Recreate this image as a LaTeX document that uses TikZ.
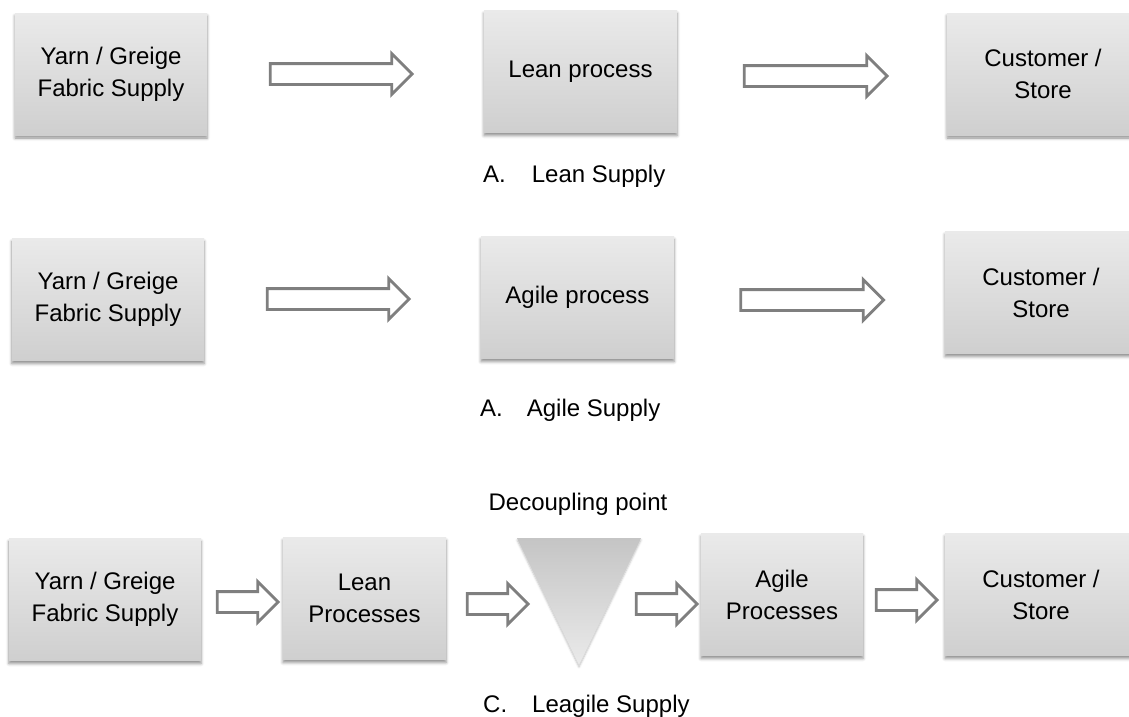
\documentclass[tikz,border=0pt]{standalone}
\usepackage{fontspec}
\setmainfont{Liberation Sans}
\usetikzlibrary{shapes.arrows,shadows.blur}
\definecolor{boxtop}{HTML}{EAEAEA}
\definecolor{boxbot}{HTML}{CFCFCF}
\definecolor{arrowline}{HTML}{7F7F7F}
\tikzset{
  stagebox/.style={rectangle, minimum width=192pt, minimum height=122pt, inner sep=0pt,
    top color=boxtop, bottom color=boxbot, align=center,
    font=\fontsize{24}{32}\selectfont,
    blur shadow={shadow xshift=0pt, shadow yshift=-3pt, shadow blur radius=3pt, shadow opacity=45}},
  flowarrow/.style={single arrow, draw=arrowline, line width=2.8pt, fill=white,
    inner xsep=0pt, inner ysep=9pt, single arrow head extend=10pt,
    single arrow tip angle=90, minimum height=#1},
  flowarrow/.default=142pt,
  caption/.style={font=\fontsize{24}{32}\selectfont, inner sep=0pt}
}
\begin{document}
\begin{tikzpicture}[x=1pt,y=-1pt]
                \useasboundingbox (0,0) rectangle (1129,716);
                % Row A: lean supply
                \node[stagebox] (yarnA) at (111,74) {Yarn / Greige\\Fabric Supply};
                \node[stagebox, minimum width=193pt] (leanA) at (580.5,71.5) {Lean process};
                \node[stagebox] (custA) at (1043,74) {Customer /\\Store};
                \node[flowarrow] (arrA1) at (336,74) {};
                \node[flowarrow=143pt] (arrA2) at (810.5,76) {};
                \node[caption, anchor=base west] (capA) at (483,182) {A.\hspace{26pt}Lean Supply};

                % Row B: agile supply
                \node[stagebox] (yarnB) at (108,299.5) {Yarn / Greige\\Fabric Supply};
                \node[stagebox, minimum width=193pt] (agileB) at (577.5,297.5) {Agile process};
                \node[stagebox] (custB) at (1041,292.5) {Customer /\\Store};
                \node[flowarrow] (arrB1) at (333,299) {};
                \node[flowarrow=143pt] (arrB2) at (807,300) {};
                \node[caption, anchor=base west] (capB) at (480,416) {A.\hspace{24pt}Agile Supply};

                % Row C: leagile supply
                \node[stagebox] (yarnC) at (105,599.5) {Yarn / Greige\\Fabric Supply};
                \node[stagebox, minimum width=163pt] (leanC) at (364.5,598.5) {Lean\\Processes};
                \node[stagebox, minimum width=162pt] (agileC) at (782,594.5) {Agile\\Processes};
                \node[stagebox] (custC) at (1041,594.5) {Customer /\\Store};
                %decoupling point
                \shade[top color=boxbot!95!black, bottom color=boxtop,
                  blur shadow={shadow xshift=0pt, shadow yshift=-2pt, shadow blur radius=2pt, shadow opacity=25}]
                  (517,538) -- (641,538) -- (579,665) -- cycle;
                \coordinate (decouple) at (579,600);
                \node[caption, anchor=base] (capDec) at (578,510) {Decoupling point};
                \foreach \name/\x/\y in {arrC1/242.5/602, arrC2/492.5/604, arrC3/661.5/604, arrC4/901.5/600} {
                    \node[flowarrow=61pt] (\name) at (\x,\y) {};
                }
                \node[caption, anchor=base west] (capC) at (483,712) {C.\hspace{25pt}Leagile Supply};
\end{tikzpicture}
\end{document}
